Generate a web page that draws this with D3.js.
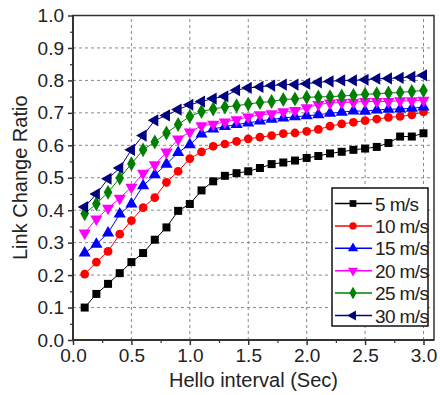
<!DOCTYPE html>
<html>
<head>
<meta charset="utf-8">
<script src="https://cdn.jsdelivr.net/npm/d3@7"></script>
<style>
  body { margin: 0; background: #fff; }
  svg { display: block; font-family: "Liberation Sans", Arial, sans-serif; }
  .grid line { stroke: #888; stroke-width: 1; stroke-dasharray: 3,3; }
  .tick text { fill: #222; }
</style>
</head>
<body>
<div id="graph"></div>
<script>
var xValues = [0.1, 0.2, 0.3, 0.4, 0.5, 0.6, 0.7, 0.8, 0.9, 1.0,
               1.1, 1.2, 1.3, 1.4, 1.5, 1.6, 1.7, 1.8, 1.9, 2.0,
               2.1, 2.2, 2.3, 2.4, 2.5, 2.6, 2.7, 2.8, 2.9, 3.0];

var speed5  = [0.100, 0.142, 0.173, 0.206, 0.240, 0.268, 0.309, 0.347, 0.398, 0.419,
               0.461, 0.489, 0.506, 0.514, 0.520, 0.530, 0.542, 0.547, 0.553, 0.561,
               0.567, 0.575, 0.580, 0.586, 0.590, 0.595, 0.607, 0.627, 0.627, 0.637];
var speed10 = [0.203, 0.240, 0.273, 0.326, 0.368, 0.408, 0.439, 0.486, 0.520, 0.559,
               0.580, 0.597, 0.604, 0.612, 0.620, 0.625, 0.630, 0.636, 0.638, 0.643,
               0.649, 0.659, 0.666, 0.671, 0.676, 0.681, 0.686, 0.689, 0.694, 0.703];
var speed15 = [0.268, 0.295, 0.330, 0.388, 0.419, 0.475, 0.509, 0.542, 0.578, 0.602,
               0.635, 0.650, 0.658, 0.664, 0.669, 0.675, 0.680, 0.684, 0.688, 0.691,
               0.694, 0.699, 0.702, 0.706, 0.705, 0.709, 0.711, 0.712, 0.714, 0.718];
var speed20 = [0.330, 0.373, 0.406, 0.437, 0.471, 0.514, 0.540, 0.579, 0.619, 0.641,
               0.660, 0.665, 0.672, 0.679, 0.687, 0.694, 0.697, 0.703, 0.707, 0.716,
               0.726, 0.730, 0.732, 0.733, 0.735, 0.735, 0.735, 0.737, 0.737, 0.739];
var speed25 = [0.389, 0.420, 0.455, 0.499, 0.543, 0.586, 0.610, 0.638, 0.664, 0.689,
               0.704, 0.712, 0.718, 0.722, 0.727, 0.732, 0.735, 0.741, 0.743, 0.748,
               0.749, 0.750, 0.752, 0.754, 0.757, 0.759, 0.761, 0.763, 0.766, 0.769];
var speed30 = [0.410, 0.450, 0.497, 0.530, 0.586, 0.630, 0.677, 0.692, 0.710, 0.725,
               0.735, 0.744, 0.751, 0.770, 0.777, 0.780, 0.784, 0.787, 0.787, 0.790,
               0.794, 0.797, 0.800, 0.800, 0.802, 0.805, 0.806, 0.808, 0.811, 0.816];

var seriesNames = ["5 m/s", "10 m/s", "15 m/s", "20 m/s", "25 m/s", "30 m/s"];
var xTickLabels = ["0.0", "0.5", "1.0", "1.5", "2.0", "2.5", "3.0"];
var yTickLabels = ["0.0", "0.1", "0.2", "0.3", "0.4", "0.5", "0.6", "0.7", "0.8", "0.9", "1.0"];

var colors = ["#000000", "#ff0000", "#0000ff", "#ff00ff", "#008000", "#000080"];
var shapes = [
  {type: d3.symbolSquare, size: 64, rot: 0},
  {type: d3.symbolCircle, size: 60, rot: 0},
  {type: d3.symbolTriangle, size: 64, rot: 0},
  {type: d3.symbolTriangle, size: 64, rot: 180},
  {type: d3.symbolDiamond, size: 64, rot: 0},
  {type: d3.symbolTriangle, size: 64, rot: -90}
];

var allSeries = [speed5, speed10, speed15, speed20, speed25, speed30];

var W = 440, H = 395;
var x = d3.scaleLinear().domain([0, 3.09]).range([73, 434]);
var y = d3.scaleLinear().domain([0, 1]).range([340, 15.5]);

var svg = d3.select("#graph").append("svg")
    .attr("width", W)
    .attr("height", H);

// grid
var xMajor = xTickLabels.map(Number);
var yMajor = yTickLabels.map(Number);

svg.append("g").attr("class", "grid")
  .selectAll("line").data(xMajor.slice(1)).enter().append("line")
    .attr("x1", function(d) { return x(d); })
    .attr("x2", function(d) { return x(d); })
    .attr("y1", y(0)).attr("y2", y(1));

svg.append("g").attr("class", "grid")
  .selectAll("line").data(yMajor.slice(1, -1)).enter().append("line")
    .attr("x1", x.range()[0]).attr("x2", x.range()[1])
    .attr("y1", function(d) { return y(d); })
    .attr("y2", function(d) { return y(d); });

// frame
svg.append("rect")
    .attr("x", x.range()[0]).attr("y", y(1))
    .attr("width", x.range()[1] - x.range()[0])
    .attr("height", y(0) - y(1))
    .attr("fill", "none").attr("stroke", "#333").attr("stroke-width", 1.5);

// minor ticks
var xMinor = d3.range(0.25, 3.01, 0.5);
var yMinor = d3.range(0.05, 1, 0.1);

svg.append("g")
    .attr("transform", "translate(0," + y(0) + ")")
    .call(d3.axisBottom(x).tickValues(xMinor).tickSize(3).tickFormat(""))
    .call(function(g) { g.select(".domain").remove(); })
    .selectAll("line").attr("stroke", "#333").attr("stroke-width", 1.2);

svg.append("g")
    .attr("transform", "translate(" + x.range()[0] + ",0)")
    .call(d3.axisLeft(y).tickValues(yMinor).tickSize(3).tickFormat(""))
    .call(function(g) { g.select(".domain").remove(); })
    .selectAll("line").attr("stroke", "#333").attr("stroke-width", 1.2);

// major axes
var xAxis = svg.append("g")
    .attr("transform", "translate(0," + y(0) + ")")
    .call(d3.axisBottom(x).tickValues(xMajor).tickSize(5).tickPadding(4)
      .tickFormat(function(d, i) { return xTickLabels[i]; }));
xAxis.select(".domain").remove();
xAxis.selectAll("line").attr("stroke", "#333").attr("stroke-width", 1.5);
xAxis.selectAll("text").style("font-size", "19px").style("font-family", "Liberation Sans, Arial, sans-serif");

var yAxis = svg.append("g")
    .attr("transform", "translate(" + x.range()[0] + ",0)")
    .call(d3.axisLeft(y).tickValues(yMajor).tickSize(5).tickPadding(4)
      .tickFormat(function(d, i) { return yTickLabels[i]; }));
yAxis.select(".domain").remove();
yAxis.selectAll("line").attr("stroke", "#333").attr("stroke-width", 1.5);
yAxis.selectAll("text").style("font-size", "19px").style("font-family", "Liberation Sans, Arial, sans-serif");

// heavier left and bottom axis lines
svg.append("line")
    .attr("x1", x.range()[0]).attr("x2", x.range()[1])
    .attr("y1", y(0)).attr("y2", y(0))
    .attr("stroke", "#333").attr("stroke-width", 2);
svg.append("line")
    .attr("x1", x.range()[0]).attr("x2", x.range()[0])
    .attr("y1", y(0)).attr("y2", y(1))
    .attr("stroke", "#333").attr("stroke-width", 2);

// titles
svg.append("text")
    .attr("x", (x(0) + x(3.09)) / 2)
    .attr("y", 387)
    .attr("text-anchor", "middle")
    .style("font-size", "20px")
    .attr("fill", "#222")
    .text("Hello interval (Sec)");

svg.append("text")
    .attr("transform", "translate(27," + ((y(0) + y(1)) / 2) + ") rotate(-90)")
    .attr("text-anchor", "middle")
    .style("font-size", "20px")
    .attr("fill", "#222")
    .text("Link Change Ratio");

// series
var line = d3.line()
    .x(function(d, i) { return x(xValues[i]); })
    .y(function(d) { return y(d); });

allSeries.forEach(function(values, k) {
  var g = svg.append("g");
  g.append("path")
      .datum(values)
      .attr("d", line)
      .attr("fill", "none")
      .attr("stroke", colors[k])
      .attr("stroke-width", 1);
  g.selectAll("path.pt").data(values).enter().append("path")
      .attr("class", "pt")
      .attr("d", d3.symbol().type(shapes[k].type).size(shapes[k].size))
      .attr("transform", function(d, i) {
        return "translate(" + x(xValues[i]) + "," + y(d) + ") rotate(" + shapes[k].rot + ")";
      })
      .attr("fill", colors[k]);
});

// legend
var legend = svg.append("g").attr("transform", "translate(332,188)");
legend.append("rect")
    .attr("width", 96).attr("height", 138)
    .attr("fill", "#fff").attr("stroke", "#111").attr("stroke-width", 1.5);

seriesNames.forEach(function(name, k) {
  var ry = 15.5 + k * 22.4;
  legend.append("line")
      .attr("x1", 3).attr("x2", 40)
      .attr("y1", ry).attr("y2", ry)
      .attr("stroke", colors[k]).attr("stroke-width", 1.5);
  legend.append("path")
      .attr("d", d3.symbol().type(shapes[k].type).size(shapes[k].size * 0.7))
      .attr("transform", "translate(21," + ry + ") rotate(" + shapes[k].rot + ")")
      .attr("fill", colors[k]);
  legend.append("text")
      .attr("x", 43).attr("y", ry + 7)
      .style("font-size", "19px")
      .style("letter-spacing", "-0.6px")
      .attr("fill", "#222")
      .text(name);
});
</script>
</body>
</html>
